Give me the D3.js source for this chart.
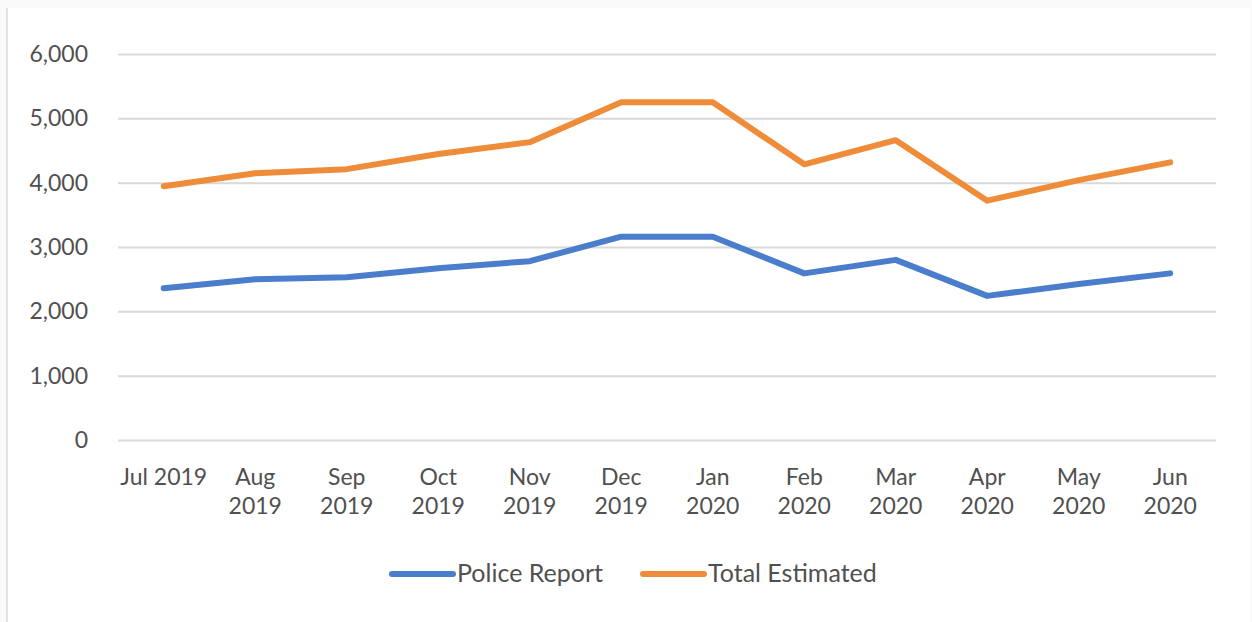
<!DOCTYPE html>
<html>
<head>
<meta charset="utf-8">
<script src="https://cdn.jsdelivr.net/npm/d3@7"></script>
<style>
	body { margin: 0; background: #fafafa; }
	svg { display: block; }
	.tick text { font-family: Lato, "Open Sans", sans-serif; fill: #505050; }
	.legend text { font-family: Lato, "Open Sans", sans-serif; fill: #505050; }
</style>
</head>
<body>
<svg id="graph"></svg>
<script>
var months = ["Jul 2019", "Aug 2019", "Sep 2019", "Oct 2019", "Nov 2019", "Dec 2019",
	"Jan 2020", "Feb 2020", "Mar 2020", "Apr 2020", "May 2020", "Jun 2020"];
var policeReport = [2360, 2500, 2530, 2670, 2780, 3160, 3160, 2590, 2800, 2240, 2425, 2590];
var totalEstimated = [3945, 4145, 4210, 4445, 4630, 5250, 5250, 4285, 4660, 3720, 4040, 4315];
var yTicks = [0, 1000, 2000, 3000, 4000, 5000, 6000];
var seriesNames = ["Police Report", "Total Estimated"];

var W = 1252, H = 622;
var margin = {top: 54, left: 118, right: 36, bottom: 182},
	width = W - margin.left - margin.right,
	height = H - margin.top - margin.bottom;

var svg = d3.select("#graph").attr("width", W).attr("height", H);

// white panel
svg.append("rect").attr("x", 7).attr("y", 8).attr("width", W - 9).attr("height", H - 8)
	.attr("fill", "#fff");
svg.append("line").attr("x1", 7).attr("x2", 7).attr("y1", 8).attr("y2", H)
	.attr("stroke", "#e2e2e2").attr("stroke-width", 2);

var g = svg.append("g").attr("transform", "translate(" + margin.left + "," + margin.top + ")");

var x = d3.scaleBand().domain(months).range([0, width]),
	y = d3.scaleLinear().domain([0, 6000]).range([height, 0]);

// gridlines + y labels
var yAxis = d3.axisLeft(y).tickValues(yTicks).tickFormat(d3.format(",")).tickSize(-width).tickPadding(30);
g.append("g").attr("class", "axis yaxis").call(yAxis)
	.call(function(s) {
		s.select(".domain").remove();
		s.selectAll(".tick line").attr("stroke", "#d9d9d9").attr("stroke-width", 2);
		s.selectAll(".tick text").attr("font-size", 23);
	});

// x labels, two lines
var xAxis = d3.axisBottom(x).tickSize(0).tickPadding(0);
g.append("g").attr("class", "axis xaxis").attr("transform", "translate(0," + height + ")")
	.call(xAxis)
	.call(function(s) {
		s.select(".domain").remove();
		s.selectAll(".tick text").text(null).attr("dy", null).attr("y", null).attr("font-size", 23)
			.each(function(d, i) {
				var t = d3.select(this);
				if (i === 0) {
					t.append("tspan").attr("x", 0).attr("y", 45).text(d);
				} else {
					var parts = d.split(" ");
					t.append("tspan").attr("x", 0).attr("y", 45).text(parts[0]);
					t.append("tspan").attr("x", 0).attr("y", 74).text(parts[1]);
				}
			});
	});

var colors = ["#4a7dcb", "#ee8c3a"];
var line = d3.line()
	.x(function(d, i) { return x(months[i]) + x.bandwidth() / 2; })
	.y(function(d) { return y(d); });

[policeReport, totalEstimated].forEach(function(s, i) {
	g.append("path").datum(s)
		.attr("fill", "none")
		.attr("stroke", colors[i])
		.attr("stroke-width", 6)
		.attr("stroke-linejoin", "round")
		.attr("stroke-linecap", "round")
		.attr("d", line);
});

// legend
var legend = svg.append("g").attr("class", "legend").attr("transform", "translate(392,574)");
var legendX = [0, 251];
seriesNames.forEach(function(name, i) {
	var lg = legend.append("g").attr("transform", "translate(" + legendX[i] + ",0)");
	lg.append("line").attr("x1", 0).attr("x2", 61).attr("y1", 0).attr("y2", 0)
		.attr("stroke", colors[i]).attr("stroke-width", 6).attr("stroke-linecap", "round");
	lg.append("text").attr("x", 65).attr("y", 8).attr("font-size", 25).text(name);
});
</script>
</body>
</html>
